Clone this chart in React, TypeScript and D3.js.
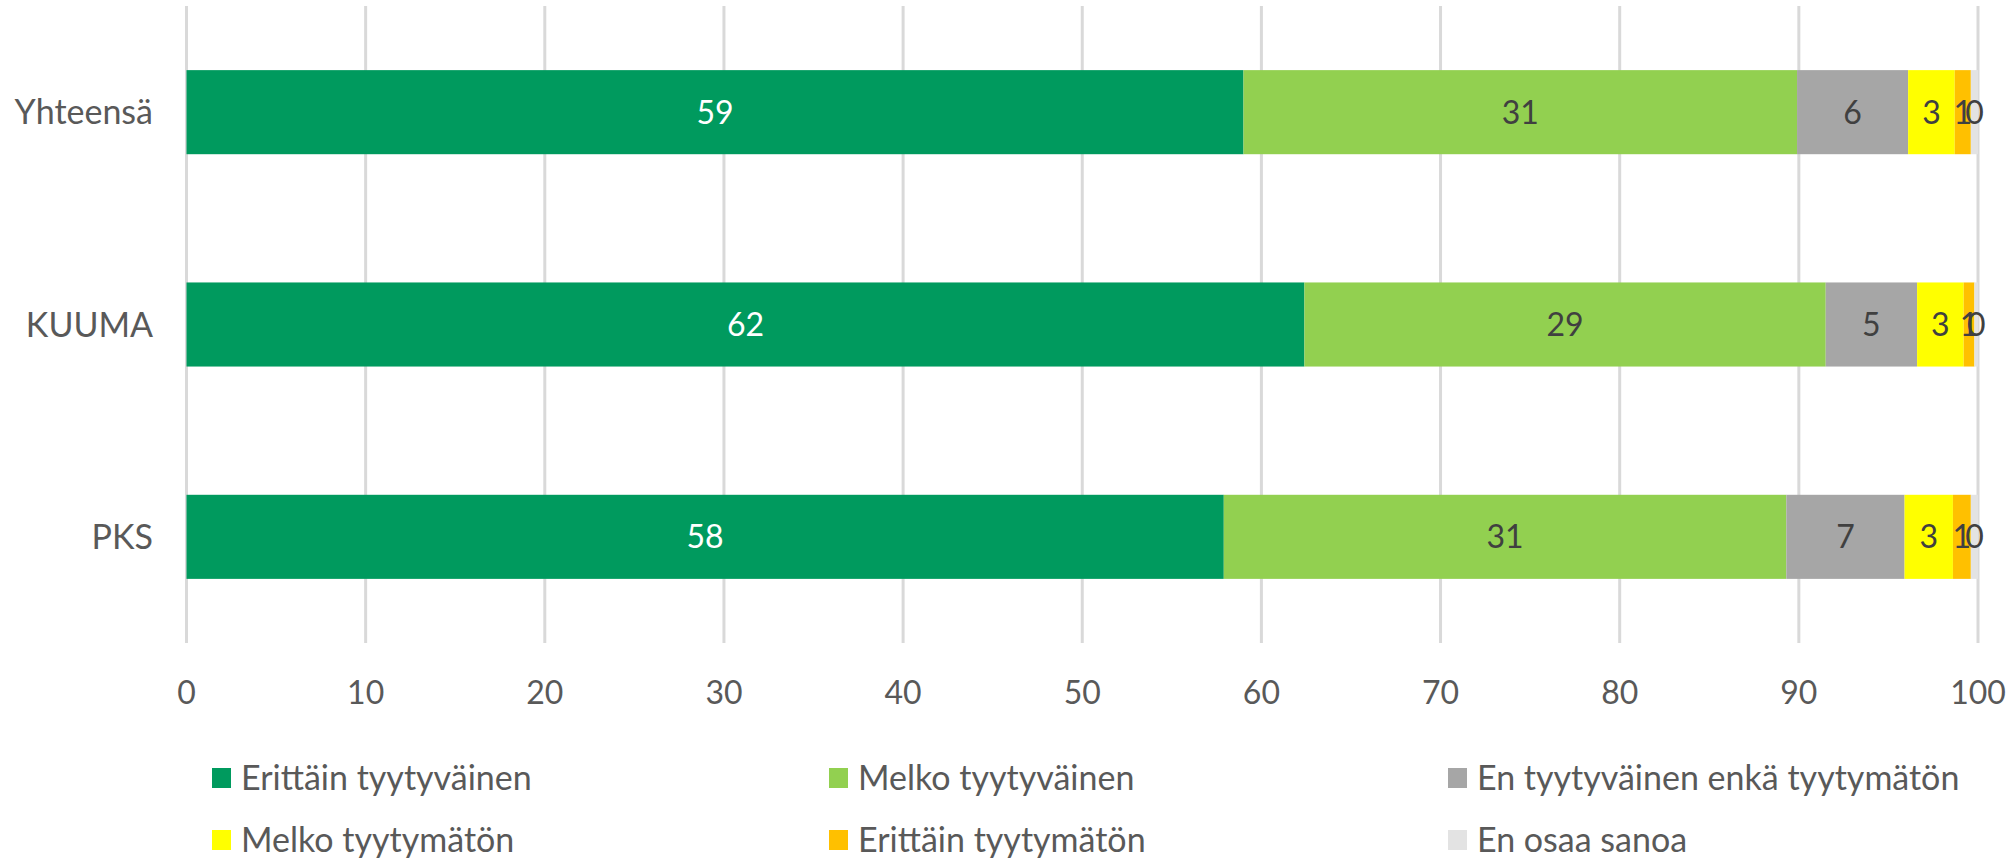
import React, { useEffect, useRef } from "react";
import * as d3 from "d3";

const categories = ["Yhteensä", "KUUMA", "PKS"];
const seriesNames = [
  "Erittäin tyytyväinen",
  "Melko tyytyväinen",
  "En tyytyväinen enkä tyytymätön",
  "Melko tyytymätön",
  "Erittäin tyytymätön",
  "En osaa sanoa",
];
// one array per category, same order as seriesNames
const yhteensa = [59.0, 30.9, 6.2, 2.6, 0.9, 0.4];
const kuuma = [62.4, 29.1, 5.1, 2.6, 0.6, 0.2];
const pks = [57.9, 31.4, 6.6, 2.7, 1.0, 0.4];
const xTicks = [0, 10, 20, 30, 40, 50, 60, 70, 80, 90, 100];

const colors = ["#009A5E", "#92D050", "#A6A6A6", "#FFFF00", "#FFC000", "#E3E3E3"];
const FONT = "Lato, 'Open Sans', sans-serif";

export default function App() {
  const svgRef = useRef<SVGSVGElement>(null);

  useEffect(() => {
    const svg = d3.select(svgRef.current);
    svg.selectAll("*").remove();

    const width = 2011, height = 859;
    const rows = [yhteensa, kuuma, pks];

    const x = d3.scaleLinear().domain([0, 100]).range([186.5, 1978]);
    const y = d3.scaleBand().domain(categories).range([6, 643]).paddingInner(0.604).paddingOuter(0.302);

    svg.attr("width", width).attr("height", height);

    // gridlines
    svg.append("g")
      .selectAll("line")
      .data(xTicks)
      .enter()
      .append("line")
      .attr("x1", d => x(d))
      .attr("x2", d => x(d))
      .attr("y1", 6)
      .attr("y2", 643)
      .attr("stroke", "#D9D9D9")
      .attr("stroke-width", 3);

    // stacked bars
    rows.forEach((vals, i) => {
      const cat = categories[i];
      let acc = 0;
      const segs = vals.map((v, j) => {
        const s = { start: acc, end: acc + v, v, j };
        acc += v;
        return s;
      });
      const g = svg.append("g");
      g.selectAll("rect")
        .data(segs)
        .enter()
        .append("rect")
        .attr("x", d => x(d.start))
        .attr("y", y(cat)!)
        .attr("width", d => x(d.end) - x(d.start))
        .attr("height", y.bandwidth())
        .attr("fill", d => colors[d.j]);

      g.selectAll("text")
        .data(segs)
        .enter()
        .append("text")
        .attr("x", d => (x(d.start) + x(d.end)) / 2)
        .attr("y", y(cat)! + y.bandwidth() / 2)
        .attr("dy", "0.36em")
        .attr("text-anchor", "middle")
        .attr("fill", d => (d.j === 0 ? "#FFFFFF" : "#404040"))
        .style("font-family", FONT)
        .style("font-size", "32px")
        .text(d => d3.format(".0f")(d.v));
    });

    // category labels
    svg.append("g")
      .selectAll("text")
      .data(categories)
      .enter()
      .append("text")
      .attr("x", 153)
      .attr("y", d => y(d)! + y.bandwidth() / 2)
      .attr("dy", "0.36em")
      .attr("text-anchor", "end")
      .attr("fill", "#595959")
      .style("font-family", FONT)
      .style("font-size", "34px")
      .text(d => d);

    // x tick labels
    svg.append("g")
      .selectAll("text")
      .data(xTicks)
      .enter()
      .append("text")
      .attr("x", d => x(d))
      .attr("y", 692)
      .attr("dy", "0.36em")
      .attr("text-anchor", "middle")
      .attr("fill", "#595959")
      .style("font-family", FONT)
      .style("font-size", "32px")
      .text(d => d);

    // legend, 3 columns x 2 rows
    const colX = [212, 829, 1448];
    const rowY = [778, 840];
    const leg = svg.append("g")
      .selectAll("g")
      .data(seriesNames)
      .enter()
      .append("g")
      .attr("transform", (d, i) => `translate(${colX[i % 3]}, ${rowY[Math.floor(i / 3)]})`);

    leg.append("rect")
      .attr("x", 0)
      .attr("y", -10)
      .attr("width", 19)
      .attr("height", 20)
      .attr("fill", (d, i) => colors[i]);

    leg.append("text")
      .attr("x", 29)
      .attr("y", 0)
      .attr("dy", "0.36em")
      .attr("fill", "#595959")
      .style("font-family", FONT)
      .style("font-size", "34px")
      .text(d => d);
  }, []);

  return (
    <div style={{ position: "absolute", left: 0, top: 0 }}>
      <svg ref={svgRef} style={{ display: "block" }}></svg>
    </div>
  );
}
